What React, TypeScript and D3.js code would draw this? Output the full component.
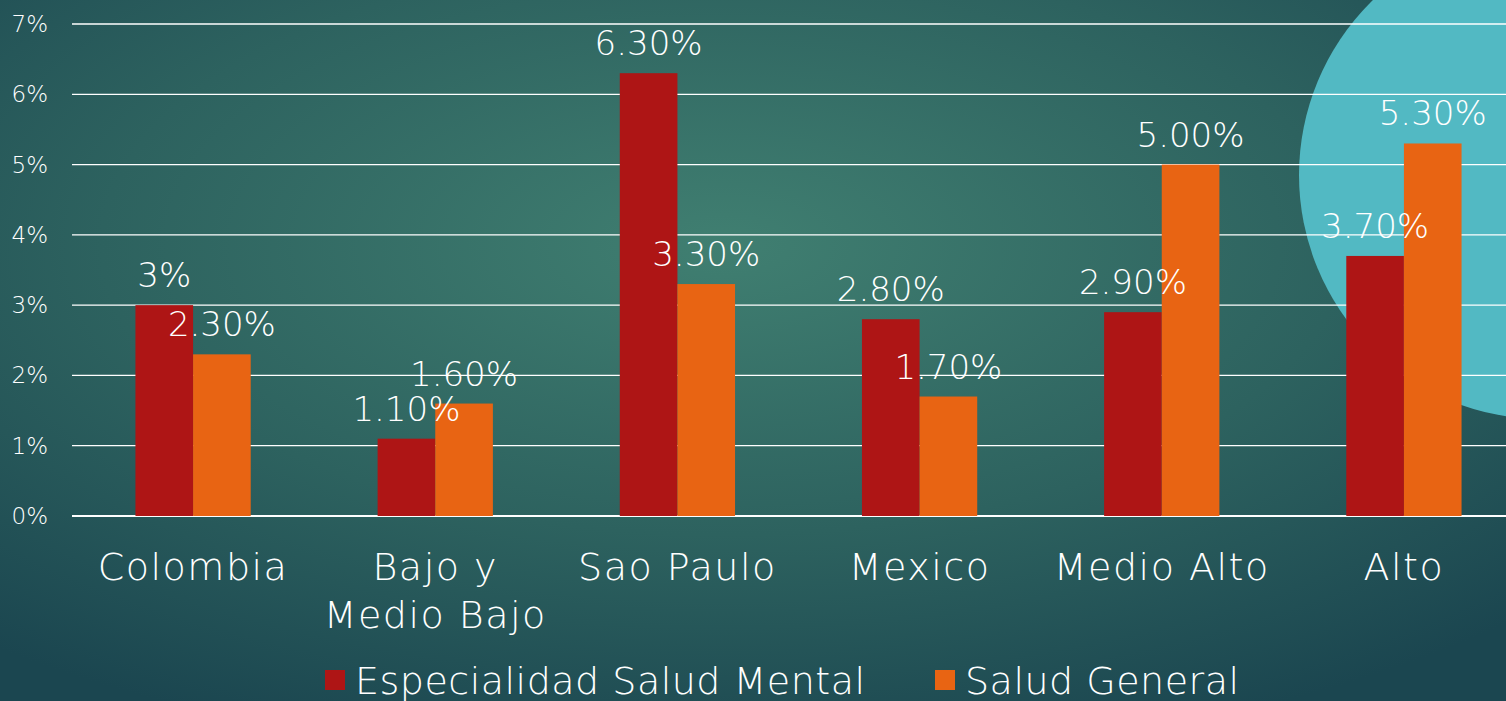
import React, { useEffect, useRef } from "react";
import * as d3 from "d3";

// categories and series values (percent)
const categories = ["Colombia", "Bajo y\nMedio Bajo", "Sao Paulo", "Mexico", "Medio Alto", "Alto"];
const mentalValues = [3.0, 1.1, 6.3, 2.8, 2.9, 3.7];
const generalValues = [2.3, 1.6, 3.3, 1.7, 5.0, 5.3];
const mentalLabels = ["3%", "1.10%", "6.30%", "2.80%", "2.90%", "3.70%"];
const generalLabels = ["2.30%", "1.60%", "3.30%", "1.70%", "5.00%", "5.30%"];
const seriesNames = ["Especialidad Salud Mental", "Salud General"];
const yTicks = [0, 1, 2, 3, 4, 5, 6, 7];

const W = 1506;
const H = 701;
const FONT = "'DejaVu Sans', sans-serif";

export default function App() {
  const ref = useRef<SVGSVGElement>(null);

  useEffect(() => {
    const svg = d3.select(ref.current);
    svg.selectAll("*").remove();

    const defs = svg.append("defs");
    const grad = defs.append("radialGradient").attr("id", "bg")
      .attr("cx", "48%").attr("cy", "35%").attr("r", "75%");
    grad.append("stop").attr("offset", "0%").attr("stop-color", "#407f71");
    grad.append("stop").attr("offset", "55%").attr("stop-color", "#2d625f");
    grad.append("stop").attr("offset", "100%").attr("stop-color", "#1b4650");

    svg.append("rect").attr("width", W).attr("height", H).attr("fill", "url(#bg)");
    svg.append("circle").attr("cx", 1543).attr("cy", 175).attr("r", 244).attr("fill", "#52b9c3");

    const margin = { left: 72, top: 24 };
    const x0 = d3.scaleBand().domain(categories).range([margin.left, 1525]).paddingInner(0).paddingOuter(0);
    const y = d3.scaleLinear().domain([0, 7]).range([516, margin.top]);
    const groupW = x0.bandwidth() * 0.476;
    const x1 = d3.scaleBand().domain(["m", "g"]).range([0, groupW]);

    const g = svg.append("g");

    // gridlines
    g.selectAll(".grid").data(yTicks).enter().append("line")
      .attr("x1", margin.left).attr("x2", W)
      .attr("y1", (d) => y(d)).attr("y2", (d) => y(d))
      .attr("stroke", "#ffffff").attr("stroke-width", (d) => (d === 0 ? 2 : 1.3));

    // y tick labels
    g.selectAll(".ytick").data(yTicks).enter().append("text")
      .attr("x", 48).attr("y", (d) => y(d) + 8)
      .attr("text-anchor", "end").attr("fill", "#ffffff")
      .attr("font-family", FONT).attr("font-weight", 200).attr("font-size", 23)
      .text((d) => d + "%");

    const rows = categories.map((c, i) => ({ c, i }));
    const groups = g.selectAll(".grp").data(rows).enter().append("g")
      .attr("transform", (d) => `translate(${x0(d.c)! + (x0.bandwidth() - groupW) / 2},0)`);

    groups.append("rect").attr("x", x1("m")!).attr("width", x1.bandwidth())
      .attr("y", (d) => y(mentalValues[d.i])).attr("height", (d) => y(0) - y(mentalValues[d.i]))
      .attr("fill", "#ae1515");
    groups.append("rect").attr("x", x1("g")!).attr("width", x1.bandwidth())
      .attr("y", (d) => y(generalValues[d.i])).attr("height", (d) => y(0) - y(generalValues[d.i]))
      .attr("fill", "#e86413");

    const lbl = (sel: any) => sel.attr("text-anchor", "middle").attr("fill", "#ffffff")
      .attr("font-family", FONT).attr("font-weight", 200).attr("font-size", 34);
    groups.append("text").call(lbl)
      .attr("x", x1("m")! + x1.bandwidth() / 2).attr("y", (d) => y(mentalValues[d.i]) - 18)
      .text((d) => mentalLabels[d.i]);
    groups.append("text").call(lbl)
      .attr("x", x1("g")! + x1.bandwidth() / 2).attr("y", (d) => y(generalValues[d.i]) - 18)
      .text((d) => generalLabels[d.i]);

    // category labels
    const cat = g.selectAll(".cat").data(categories).enter().append("text")
      .attr("x", (d) => x0(d)! + x0.bandwidth() / 2).attr("y", 580)
      .attr("text-anchor", "middle").attr("fill", "#ffffff")
      .attr("font-family", FONT).attr("font-weight", 200).attr("font-size", 38)
      .attr("letter-spacing", 1.5);
    cat.selectAll("tspan").data((d) => d.split("\n").map((t, k) => ({ t, k, d })))
      .enter().append("tspan")
      .attr("x", (s) => x0(s.d)! + x0.bandwidth() / 2)
      .attr("dy", (s) => (s.k === 0 ? 0 : 48))
      .text((s) => s.t);

    // legend
    const colors = ["#ae1515", "#e86413"];
    const legendX = [325, 935];
    seriesNames.forEach((name, k) => {
      g.append("rect").attr("x", legendX[k]).attr("y", 670).attr("width", 20).attr("height", 20).attr("fill", colors[k]);
      g.append("text").attr("x", legendX[k] + 30).attr("y", 694)
        .attr("fill", "#ffffff").attr("font-family", FONT).attr("font-weight", 200).attr("font-size", 38)
        .attr("letter-spacing", 0.5)
        .text(name);
    });
  }, []);

  return <svg ref={ref} width={W} height={H} style={{ display: "block", position: "absolute", left: 0, top: 0 }} />;
}
